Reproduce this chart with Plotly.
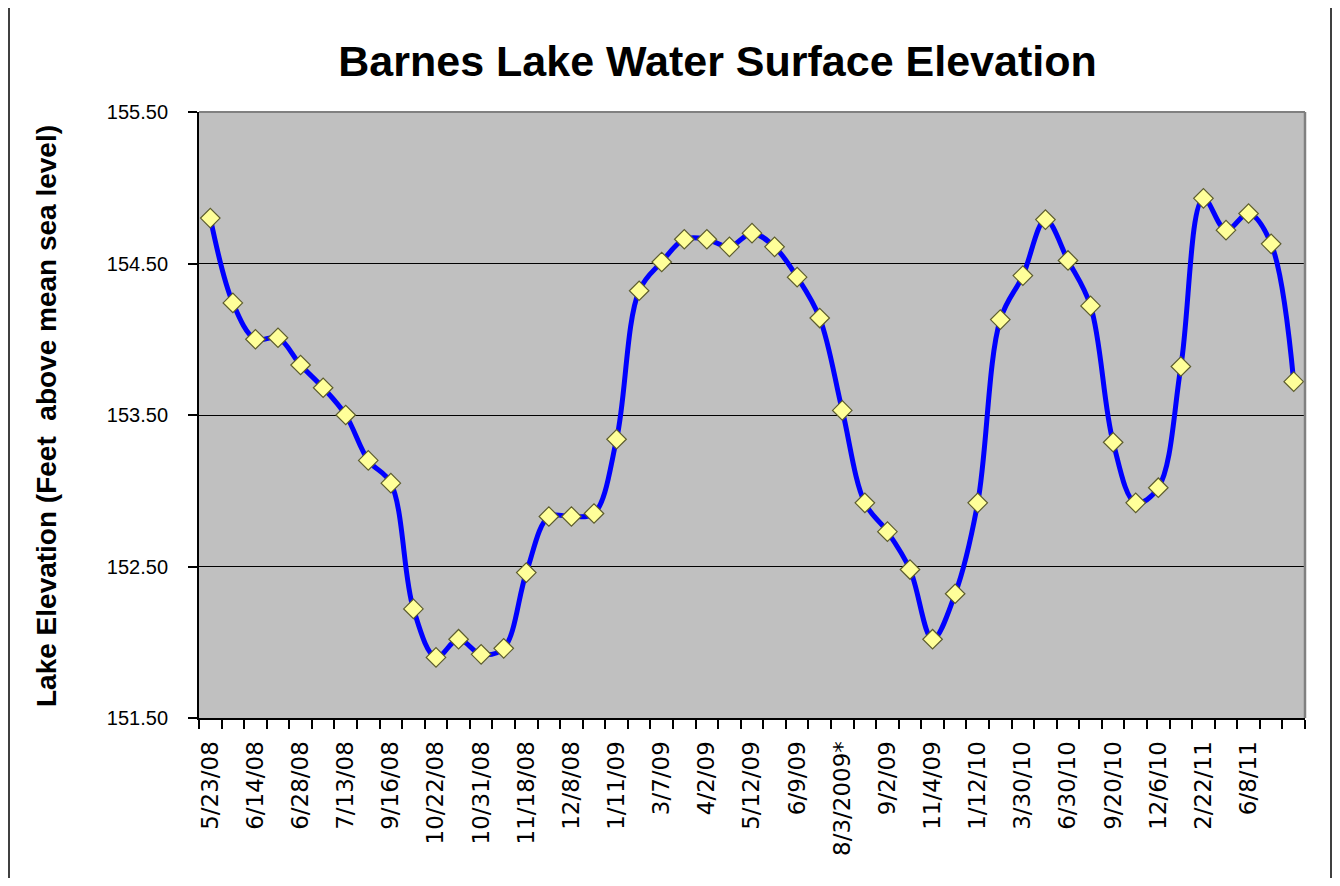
import plotly.graph_objects as go

# ---- data ----
tick_labels = ["5/23/08", "6/14/08", "6/28/08", "7/13/08", "9/16/08", "10/22/08",
               "10/31/08", "11/18/08", "12/8/08", "1/11/09", "3/7/09", "4/2/09",
               "5/12/09", "6/9/09", "8/3/2009*", "9/2/09", "11/4/09", "1/12/10",
               "3/30/10", "6/30/10", "9/20/10", "12/6/10", "2/22/11", "6/8/11"]

elevation = [154.80, 154.24, 154.00, 154.01, 153.83, 153.68, 153.50, 153.20, 153.05,
             152.22, 151.90, 152.02, 151.92, 151.96, 152.46, 152.83, 152.83, 152.85,
             153.34, 154.32, 154.51, 154.66, 154.66, 154.61, 154.70, 154.61, 154.41,
             154.14, 153.53, 152.92, 152.73, 152.48, 152.02, 152.32, 152.92, 154.13,
             154.42, 154.79, 154.52, 154.22, 153.32, 152.92, 153.02, 153.82, 154.93,
             154.72, 154.83, 154.63, 153.72]

y_ticks = [151.5, 152.5, 153.5, 154.5, 155.5]

title_text = "Barnes Lake Water Surface Elevation"
y_title = "Lake Elevation (Feet\u00a0\u00a0above mean sea level)"

# ---- layout constants (page body has an 8px margin on every side) ----
OFF = 8
W, H = 1340 - 2 * OFF, 886 - 2 * OFF
L, T = 199 - OFF, 112 - OFF
R = W - (1305 - OFF)
B = H - (718 - OFF)
pw, ph = W - L - R, H - T - B

idx = list(range(len(elevation)))
tick_idx = idx[::2][:len(tick_labels)]

fig = go.Figure()
fig.add_trace(go.Scatter(
    x=idx, y=elevation, mode="lines+markers",
    line=dict(color="#0000FF", width=5, shape="spline", smoothing=1.0),
    marker=dict(symbol="diamond", size=15, color="#FFFF99",
                line=dict(color="#5C5C2E", width=1.2)),
    showlegend=False, hoverinfo="x+y",
))

def px_x(p):
    return (p - OFF - L) / pw

def px_y(p):
    return (H - B - (p - OFF)) / ph

fig.update_layout(
    width=W, height=H,
    margin=dict(l=L, r=R, t=T, b=B, pad=0),
    paper_bgcolor="white", plot_bgcolor="#C0C0C0",
    title=dict(text=title_text, x=(717.5 - OFF) / W, xref="container", xanchor="center",
               y=1 - (61 - OFF) / H, yref="container", yanchor="middle",
               font=dict(family="Liberation Sans, Arial", size=43, color="black",
                         weight="bold")),
    xaxis=dict(range=[-0.5, len(elevation) - 0.5], tickmode="array",
               tickvals=tick_idx, ticktext=tick_labels, tickangle=-90,
               ticks="", showgrid=False, zeroline=False,
               showline=True, linecolor="black", linewidth=2,
               ticklabelstandoff=12,
               tickfont=dict(family="DejaVu Sans", size=23, color="black"),
               minor=dict(tickmode="linear", tick0=-0.5, dtick=1, ticks="outside",
                          ticklen=9, tickcolor="black", tickwidth=1.5, showgrid=False)),
    yaxis=dict(range=[151.5, 155.5], tickmode="array", tickvals=y_ticks,
               tickformat=".2f", ticks="outside", ticklen=9, tickcolor="black",
               tickwidth=1.5, showgrid=True, gridcolor="black", gridwidth=1.2,
               zeroline=False, showline=True, linecolor="black", linewidth=2,
               ticklabelstandoff=16,
               tickfont=dict(family="Liberation Sans, Arial", size=20, color="black")),
    shapes=[
        # grey top and right border of plot area
        dict(type="line", xref="paper", yref="paper", x0=0, x1=1, y0=1, y1=1,
             line=dict(color="#808080", width=2), layer="above"),
        dict(type="line", xref="paper", yref="paper", x0=1, x1=1, y0=0, y1=1,
             line=dict(color="#808080", width=2.5), layer="above"),
        # outer chart frame (left and right edges)
        dict(type="line", xref="paper", yref="paper",
             x0=px_x(9), x1=px_x(9), y0=px_y(878), y1=px_y(8),
             line=dict(color="black", width=1.5), layer="below"),
        dict(type="line", xref="paper", yref="paper",
             x0=px_x(1331), x1=px_x(1331), y0=px_y(878), y1=px_y(8),
             line=dict(color="black", width=1.5), layer="below"),
    ],
    annotations=[
        dict(text=y_title, xref="paper", yref="paper", x=px_x(46), y=px_y(416),
             xanchor="center", yanchor="middle", textangle=-90, showarrow=False,
             font=dict(family="Liberation Sans, Arial", size=28, color="black",
                       weight="bold")),
    ],
)

fig.write_html("out.html")
